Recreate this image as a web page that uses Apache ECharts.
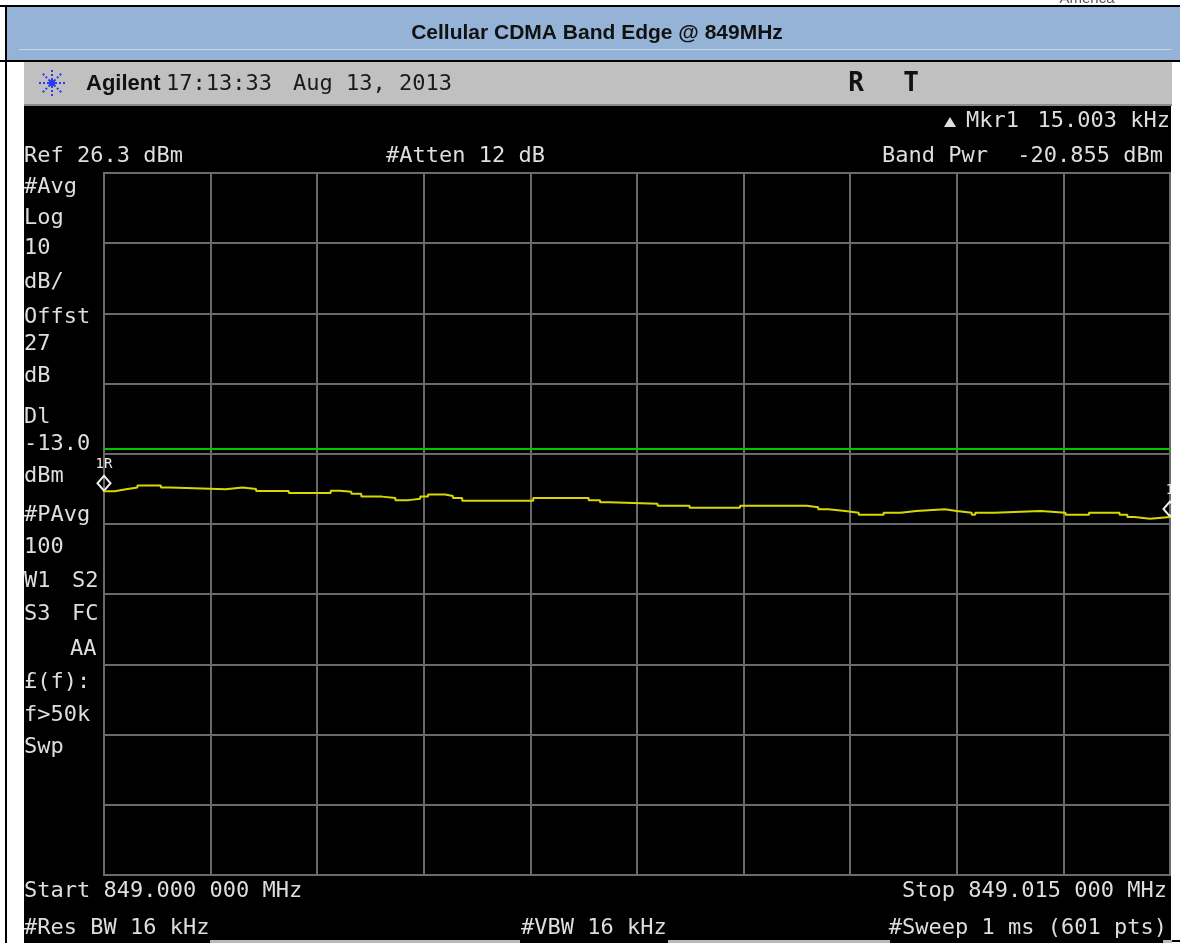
<!DOCTYPE html>
<html>
<head>
<meta charset="utf-8">
<script src="https://cdn.jsdelivr.net/npm/echarts@6/dist/echarts.min.js"></script>
<style>
html,body{margin:0;padding:0;background:#ffffff;}
#chart{width:1180px;height:943px;}
</style>
</head>
<body>
<div id="chart"></div>
<script>
// ---- Data ----
const title = 'Cellular CDMA Band Edge @ 849MHz';
const refLevel = 26.3;          // dBm, top of screen
const dbPerDiv = 10;
const displayLine = -13.0;      // dBm
const spanKHz = 15;             // 849.000 -> 849.015 MHz
const divKHz = 1.5;
// trace breakpoints: frequency offset from start (kHz) and level (dBm)
const freqKHz = [0, 0.15, 0.31, 0.47, 0.80, 0.93, 1.71, 1.95, 2.14, 2.60,
  3.19, 3.32, 3.48, 3.62, 3.91, 4.10, 4.29, 4.45, 4.56, 4.80,
  4.91, 5.04, 6.04, 6.82, 6.98, 7.11, 7.79, 8.24, 8.95, 9.89,
  10.05, 10.19, 10.43, 10.62, 10.97, 11.21, 11.43, 11.83, 12.00, 12.21,
  12.26, 12.53, 13.18, 13.53, 13.86, 14.29, 14.40, 14.50, 14.72, 15.00];
const levelDbm = [-19.03, -18.75, -18.5, -18.2, -18.5, -18.75, -18.5, -18.7, -19.0, -19.3,
  -18.95, -19.1, -19.4, -19.8, -20.0, -20.3, -20.1, -19.8, -19.5, -19.7,
  -20.0, -20.4, -20.0, -20.3, -20.6, -20.8, -21.1, -21.4, -21.1, -21.3,
  -21.6, -21.85, -22.1, -22.4, -22.1, -21.85, -21.6, -21.85, -22.1, -22.4,
  -22.1, -21.85, -22.1, -22.4, -22.1, -22.4, -22.7, -22.95, -22.7, -22.7];
const markers = [{f: 0, label: '1R'}, {f: 15, label: '1'}];
// annotation texts
const headerBrand = 'Agilent';
const headerTime = '17:13:33';
const headerDate = 'Aug 13, 2013';
const headerFlags = ['R', 'T'];
const mkrName = 'Mkr1';
const mkrValue = '15.003 kHz';
const refText = 'Ref 26.3 dBm';
const attenText = '#Atten 12 dB';
const bandPwrName = 'Band Pwr';
const bandPwrValue = '-20.855 dBm';
const leftLabels = ['#Avg', 'Log', '10', 'dB/', 'Offst', '27', 'dB', 'Dl', '-13.0', 'dBm',
  '#PAvg', '100', 'W1', 'S3', '£(f):', 'f>50k', 'Swp'];
const leftLabels2 = ['S2', 'FC', 'AA'];
const startText = 'Start 849.000 000 MHz';
const stopText = 'Stop 849.015 000 MHz';
const rbwText = '#Res BW 16 kHz';
const vbwText = '#VBW 16 kHz';
const sweepText = '#Sweep 1 ms (601 pts)';

// ---- Layout (positions only) ----
const leftY = [187, 218, 248, 282, 317, 344, 376, 417, 444, 476, 515, 547, 581, 614, 682, 715, 747];
const left2Pos = [[72, 581], [72, 614], [70, 649]];
const MONO = '"DejaVu Sans Mono", "Liberation Mono", monospace';
const SCR = '#dedede';

const chart = echarts.init(document.getElementById('chart'), null, {renderer: 'canvas'});

function txt(text, x, y, opts) {
  opts = opts || {};
  return {
    type: 'text', x: x, y: y, z: opts.z || 50, silent: true,
    style: {
      text: text,
      font: opts.font || ('22px ' + MONO),
      fill: opts.fill || SCR,
      textAlign: opts.align || 'left',
      textVerticalAlign: opts.valign || 'middle'
    }
  };
}
function rect(x, y, w, h, fill, z) {
  return {type: 'rect', silent: true, z: z === undefined ? -10 : z,
    shape: {x: x, y: y, width: w, height: h}, style: {fill: fill}};
}

const graphics = [];
// document frame & title cell
graphics.push(rect(0, 5, 1180, 2, '#000000'));
graphics.push(rect(6, 7, 1174, 53, '#95b3d7'));
graphics.push(rect(19, 49, 1153, 1, '#c3d3e8'));
graphics.push(rect(0, 60, 1180, 2, '#000000'));
graphics.push(rect(5, 5, 2, 938, '#000000'));
graphics.push(txt('America', 1087, 6, {font: '15px "Liberation Sans", Arial, sans-serif', fill: '#555555', align: 'center', valign: 'bottom'}));
graphics.push(txt(title, 597, 33, {font: 'bold 21px "Liberation Sans", Arial, sans-serif', fill: '#111111', align: 'center'}));
// analyzer header bar
graphics.push(rect(24, 62, 1148, 44, '#c0c0c0'));
graphics.push(rect(24, 104, 1148, 2, '#8a8a8a'));
// analyzer screen
graphics.push(rect(24, 106, 1147, 837, '#000000'));
// Agilent logo (starburst)
for (let k = 0; k < 8; k++) {
  const a = k * Math.PI / 4;
  graphics.push({type: 'line', silent: true, z: 40,
    shape: {x1: 52 + 3 * Math.cos(a), y1: 83 + 3 * Math.sin(a), x2: 52 + 13 * Math.cos(a), y2: 83 + 13 * Math.sin(a)},
    style: {stroke: '#2a3cf0', lineWidth: 2, lineDash: [2, 2]}});
}
graphics.push(rect(49, 80, 6, 6, '#2a3cf0', 40));
graphics.push(txt(headerBrand, 86, 84, {font: 'bold 22px "Liberation Sans", Arial, sans-serif', fill: '#111111'}));
graphics.push(txt(headerTime, 166, 84, {fill: '#1a1a1a', font: '22px ' + MONO}));
graphics.push(txt(headerDate, 293, 84, {fill: '#1a1a1a', font: '22px ' + MONO}));
graphics.push(txt(headerFlags[0], 856, 84, {fill: '#111111', font: 'bold 26px ' + MONO, align: 'center'}));
graphics.push(txt(headerFlags[1], 911, 84, {fill: '#111111', font: 'bold 26px ' + MONO, align: 'center'}));
// screen annotations
graphics.push({type: 'polygon', silent: true, z: 50, shape: {points: [[944, 127], [956, 127], [950, 117]]}, style: {fill: SCR}});
graphics.push(txt(mkrName, 966, 121));
graphics.push(txt(mkrValue, 1170, 121, {align: 'right'}));
graphics.push(txt(refText, 24, 156));
graphics.push(txt(attenText, 386, 156));
graphics.push(txt(bandPwrName, 882, 156));
graphics.push(txt(bandPwrValue, 1163, 156, {align: 'right'}));
leftLabels.forEach((t, i) => graphics.push(txt(t, 24, leftY[i])));
leftLabels2.forEach((t, i) => graphics.push(txt(t, left2Pos[i][0], left2Pos[i][1])));
graphics.push(txt(startText, 24, 891));
graphics.push(txt(stopText, 1167, 891, {align: 'right'}));
graphics.push(txt(rbwText, 24, 928));
graphics.push(txt(vbwText, 521, 928));
graphics.push(txt(sweepText, 1167, 928, {align: 'right'}));
// bottom cut-off strips
graphics.push(rect(210, 940, 310, 3, '#b8b8b8', 60));
graphics.push(rect(668, 940, 222, 3, '#b8b8b8', 60));
graphics.push(rect(1163, 940, 9, 3, '#b8b8b8', 60));
// right page margin (clips marker at screen edge)
graphics.push(rect(1172, 62, 8, 878, '#ffffff', 100));
graphics.push(rect(1172, 940, 8, 2, '#000000', 101));

const traceData = freqKHz.map((f, i) => [f, levelDbm[i] - refLevel]);
function levelAt(f) {
  let v = levelDbm[0];
  for (let i = 0; i < freqKHz.length; i++) { if (freqKHz[i] <= f) v = levelDbm[i]; }
  return v;
}

const option = {
  backgroundColor: '#ffffff',
  animation: false,
  grid: {left: 104, right: 10, top: 173, bottom: 68, show: true,
    borderColor: '#777777', borderWidth: 2, backgroundColor: 'transparent'},
  xAxis: {type: 'value', min: 0, max: spanKHz, interval: divKHz,
    axisLine: {show: false}, axisTick: {show: false}, axisLabel: {show: false},
    splitLine: {show: true, lineStyle: {color: '#6a6a6a', width: 2}}},
  yAxis: {type: 'value', min: -10 * dbPerDiv, max: 0, interval: dbPerDiv,
    axisLine: {show: false}, axisTick: {show: false}, axisLabel: {show: false},
    splitLine: {show: true, lineStyle: {color: '#6a6a6a', width: 2}}},
  graphic: graphics,
  series: [{
    type: 'line', step: 'end', data: traceData, showSymbol: false, symbol: 'none',
    lineStyle: {color: '#d8d800', width: 2}, z: 5,
    markLine: {silent: true, symbol: 'none', animation: false,
      label: {show: false},
      lineStyle: {color: '#00c800', width: 2, type: 'solid'},
      data: [{yAxis: displayLine - refLevel}]},
    markPoint: {silent: true, animation: false,
      data: markers.map(m => ({
        coord: [m.f, levelAt(m.f) - refLevel],
        symbol: 'diamond', symbolSize: [13, 15], symbolOffset: [0, -8],
        itemStyle: {color: 'rgba(0,0,0,0)', borderColor: '#f0f0f0', borderWidth: 2},
        label: {show: true, formatter: m.label, position: 'top', distance: 3,
          color: '#e8e8e8', fontSize: 14, fontFamily: MONO}
      }))}
  }]
};
chart.setOption(option);
</script>
</body>
</html>
